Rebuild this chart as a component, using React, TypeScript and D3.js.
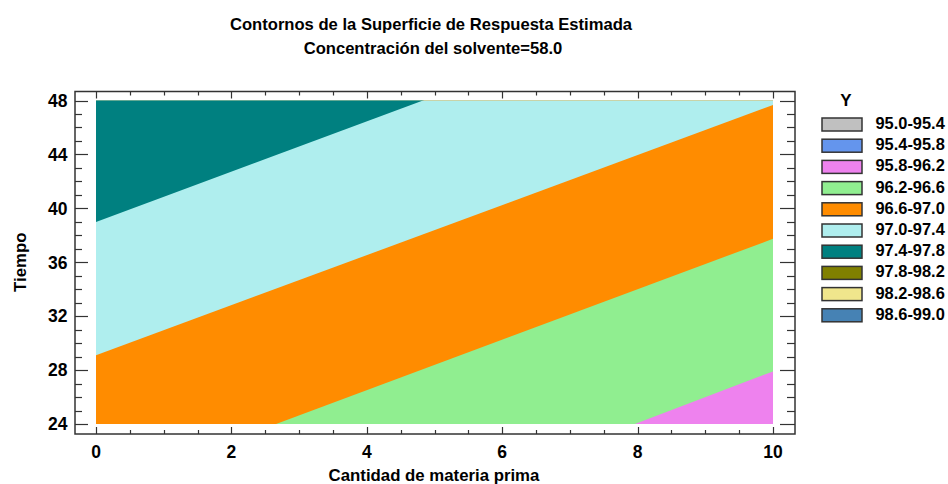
import React from "react";
import * as d3 from "d3";

// ---- data ----
const titleLines = ["Contornos de la Superficie de Respuesta Estimada", "Concentración del solvente=58.0"];
const xLabel = "Cantidad de materia prima";
const yLabel = "Tiempo";
const legendTitle = "Y";
const legendLabels = ["95.0-95.4", "95.4-95.8", "95.8-96.2", "96.2-96.6", "96.6-97.0", "97.0-97.4", "97.4-97.8", "97.8-98.2", "98.2-98.6", "98.6-99.0"];
const bandLows = [95.0, 95.4, 95.8, 96.2, 96.6, 97.0, 97.4, 97.8, 98.2, 98.6];
const bandColors = ["#C0C0C0", "#6495ED", "#EE82EE", "#90EE90", "#FF8C00", "#AFEEEE", "#008080", "#808000", "#F0E68C", "#4682B4"];
// lowest band present everywhere below the first boundary
const baseBandLow = 95.8;
// contour boundaries (level, start point [x, t], end point [x, t])
const boundaryLevels = [96.2, 96.6, 97.0, 97.4];
const boundaryStart = [[7.96, 24], [2.66, 24], [0, 29.1], [0, 38.98]];
const boundaryEnd = [[10, 27.9], [10, 37.74], [10, 47.67], [4.83, 48]];
const xMajorTicks = [0, 2, 4, 6, 8, 10];
const yMajorTicks = [24, 28, 32, 36, 40, 44, 48];
const xDomain = [0, 10];
const yDomain = [24, 48];

const FONT = "'Liberation Sans', Arial, sans-serif";

export default function App() {
  const W = 948, H = 484;
  const frame = { l: 75, r: 795, t: 91.5, b: 434 };
  const x = d3.scaleLinear().domain(xDomain).range([96, 773]);
  const y = d3.scaleLinear().domain(yDomain).range([424, 100.5]);

  const colorOf = (low: number) => bandColors[bandLows.findIndex((v) => Math.abs(v - low) < 1e-6)];

  const regions = boundaryLevels.map((lev, i) => {
    const [x0, t0] = boundaryStart[i];
    const [x1, t1] = boundaryEnd[i];
    const slope = (t1 - t0) / (x1 - x0);
    const xa = xDomain[0] - 1, xb = xDomain[1] + 1;
    const ta = t0 + slope * (xa - x0), tb = t0 + slope * (xb - x0);
    const pts: [number, number][] = [
      [x(xa), y(ta)], [x(xb), y(tb)], [x(xb), y(yDomain[1] + 20)], [x(xa), y(yDomain[1] + 20)],
    ];
    const line = d3.line();
    return { d: line(pts) + "Z", color: colorOf(lev) };
  });

  const xMinor = d3.range(xDomain[0], xDomain[1] + 0.001, 0.5);
  const yMinor = d3.range(yDomain[0], yDomain[1] + 0.001, 1);
  const isMajorX = (v: number) => xMajorTicks.some((m) => Math.abs(m - v) < 1e-6);
  const isMajorY = (v: number) => yMajorTicks.some((m) => Math.abs(m - v) < 1e-6);
  const tickColor = "#333";

  const legendX = 822, legendY0 = 118, legendStep = 21.2;

  return (
    <svg width={W} height={H} style={{ position: "absolute", left: 0, top: 0, background: "#fff" }} fontFamily={FONT}>
      <defs>
        <clipPath id="plotClip">
          <rect x={x(xDomain[0])} y={y(yDomain[1])} width={x(xDomain[1]) - x(xDomain[0])} height={y(yDomain[0]) - y(yDomain[1])} />
        </clipPath>
      </defs>
      {/* titles */}
      <text x={431} y={29.5} textAnchor="middle" fontWeight="bold" fontSize={16.6} fill="#000">{titleLines[0]}</text>
      <text x={433} y={53.5} textAnchor="middle" fontWeight="bold" fontSize={16.6} fill="#000">{titleLines[1]}</text>

      {/* contour bands */}
      <g clipPath="url(#plotClip)">
        <rect x={x(xDomain[0])} y={y(yDomain[1])} width={x(xDomain[1]) - x(xDomain[0])} height={y(yDomain[0]) - y(yDomain[1])} fill={colorOf(baseBandLow)} />
        {regions.map((r, i) => (
          <path key={i} d={r.d} fill={r.color} />
        ))}
      </g>

      {/* frame */}
      <rect x={frame.l} y={frame.t} width={frame.r - frame.l} height={frame.b - frame.t} fill="none" stroke={tickColor} strokeWidth={1.5} />

      {/* x ticks top & bottom */}
      {xMinor.map((v) => {
        const len = isMajorX(v) ? 7 : 4;
        const px = Math.round(x(v)) + 0.5;
        return (
          <g key={"xt" + v} stroke={tickColor} strokeWidth={1.2}>
            <line x1={px} x2={px} y1={frame.t} y2={frame.t + len} />
            <line x1={px} x2={px} y1={frame.b} y2={frame.b - len} />
          </g>
        );
      })}
      {/* y ticks left & right */}
      {yMinor.map((v) => {
        const major = isMajorY(v);
        const len = major ? 13 : 7;
        const lenR = major ? 15 : 8;
        const py = Math.round(y(v)) + 0.5;
        return (
          <g key={"yt" + v} stroke={tickColor} strokeWidth={1.2}>
            <line x1={frame.l} x2={frame.l + len} y1={py} y2={py} />
            <line x1={frame.r} x2={frame.r - lenR} y1={py} y2={py} />
          </g>
        );
      })}

      {/* tick labels */}
      {xMajorTicks.map((v) => (
        <text key={"xl" + v} x={x(v)} y={457.5} textAnchor="middle" fontWeight="bold" fontSize={17.5} fill="#000">{v}</text>
      ))}
      {yMajorTicks.map((v) => (
        <text key={"yl" + v} x={67.5} y={y(v) + 6.3} textAnchor="end" fontWeight="bold" fontSize={17.5} fill="#000">{v}</text>
      ))}

      {/* axis titles */}
      <text x={434} y={481} textAnchor="middle" fontWeight="bold" fontSize={16.8} fill="#000">{xLabel}</text>
      <text transform={`translate(26,${(y(yDomain[0]) + y(yDomain[1])) / 2}) rotate(-90)`} textAnchor="middle" fontWeight="bold" fontSize={16.8} fill="#000">{yLabel}</text>

      {/* legend */}
      <text x={846} y={106} textAnchor="middle" fontWeight="bold" fontSize={17} fill="#000">{legendTitle}</text>
      {legendLabels.map((lab, i) => (
        <g key={"lg" + i}>
          <rect x={legendX} y={legendY0 + i * legendStep} width={40} height={13} fill={bandColors[i]} stroke="#333" strokeWidth={1.5} />
          <text x={875.5} y={legendY0 + i * legendStep + 11} fontWeight="bold" fontSize={16.4} fill="#000">{lab}</text>
        </g>
      ))}
    </svg>
  );
}
